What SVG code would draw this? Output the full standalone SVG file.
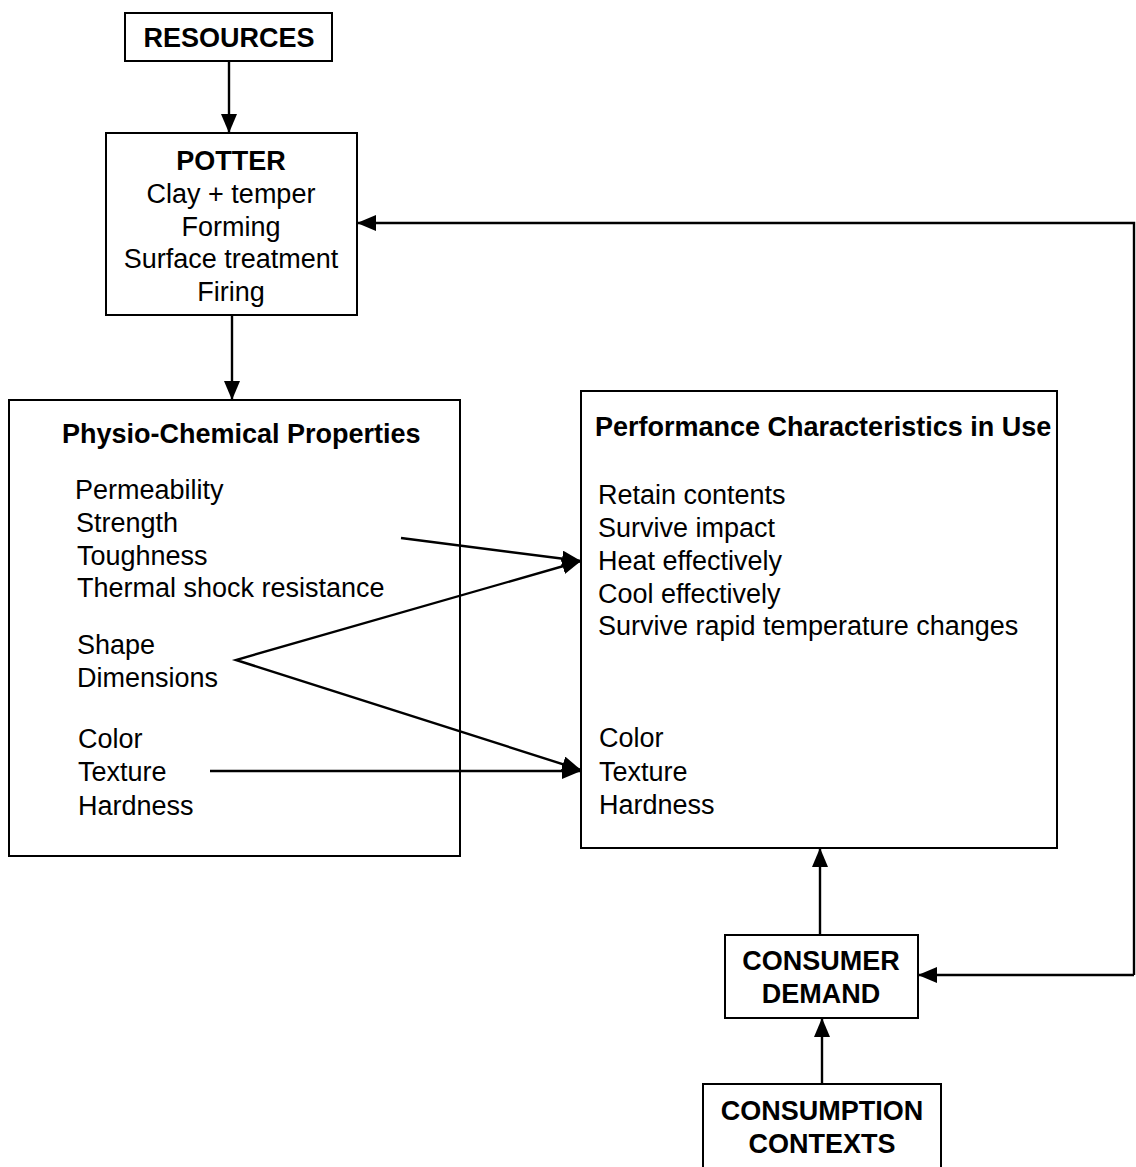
<svg xmlns="http://www.w3.org/2000/svg" width="1136" height="1167" viewBox="0 0 1136 1167">
  <defs>
    <marker id="arrow" viewBox="0 0 19 16" refX="19" refY="8" markerWidth="19" markerHeight="16" markerUnits="userSpaceOnUse" orient="auto">
      <path d="M0,0 L19,8 L0,16 Z" fill="#000"/>
    </marker>
    <marker id="arrowrev" viewBox="0 0 19 16" refX="0" refY="8" markerWidth="19" markerHeight="16" markerUnits="userSpaceOnUse" orient="auto">
      <path d="M19,0 L0,8 L19,16 Z" fill="#000"/>
    </marker>
    <style>
      .box { fill: #fff; stroke: #000; stroke-width: 2; }
      .t { font-family: "Liberation Sans", Arial, sans-serif; font-size: 27px; fill: #000; }
      .b { font-weight: bold; }
      .c { text-anchor: middle; }
      .link { fill: none; stroke: #000; stroke-width: 2.4; marker-end: url(#arrow); }
    </style>
  </defs>

  <rect width="1136" height="1167" fill="#fff"/>

  <g id="resources">
    <rect class="box" x="125" y="13" width="207" height="48"/>
    <text class="t b c" x="229" y="47">RESOURCES</text>
  </g>

  <g id="potter">
    <rect class="box" x="106" y="133" width="251" height="182"/>
    <text class="t b c" x="231" y="170">POTTER</text>
    <text class="t c" x="231" y="203">Clay + temper</text>
    <text class="t c" x="231" y="236">Forming</text>
    <text class="t c" x="231" y="268">Surface treatment</text>
    <text class="t c" x="231" y="301">Firing</text>
  </g>

  <g id="physio-chemical">
    <rect class="box" x="9" y="400" width="451" height="456"/>
    <text class="t b" x="62" y="443">Physio-Chemical Properties</text>
    <text class="t" x="75" y="499">Permeability</text>
    <text class="t" x="76" y="532">Strength</text>
    <text class="t" x="77" y="565">Toughness</text>
    <text class="t" x="77" y="597">Thermal shock resistance</text>
    <text class="t" x="77" y="654">Shape</text>
    <text class="t" x="77" y="687">Dimensions</text>
    <text class="t" x="78" y="748">Color</text>
    <text class="t" x="78" y="781">Texture</text>
    <text class="t" x="78" y="815">Hardness</text>
  </g>

  <g id="performance">
    <rect class="box" x="581" y="391" width="476" height="457"/>
    <text class="t b" x="595" y="436">Performance Characteristics in Use</text>
    <text class="t" x="598" y="504">Retain contents</text>
    <text class="t" x="598" y="537">Survive impact</text>
    <text class="t" x="598" y="570">Heat effectively</text>
    <text class="t" x="598" y="603">Cool effectively</text>
    <text class="t" x="598" y="635">Survive rapid temperature changes</text>
    <text class="t" x="599" y="747">Color</text>
    <text class="t" x="599" y="781">Texture</text>
    <text class="t" x="599" y="814">Hardness</text>
  </g>

  <g id="consumer-demand">
    <rect class="box" x="725" y="935" width="193" height="83"/>
    <text class="t b c" x="821" y="970">CONSUMER</text>
    <text class="t b c" x="821" y="1003">DEMAND</text>
  </g>

  <g id="consumption-contexts">
    <rect class="box" x="703" y="1084" width="238" height="90"/>
    <text class="t b c" x="822" y="1120">CONSUMPTION</text>
    <text class="t b c" x="822" y="1153">CONTEXTS</text>
  </g>

  <g id="connectors">
    <line class="link" x1="229" y1="61" x2="229" y2="133"/>
    <line class="link" x1="232" y1="315" x2="232" y2="400"/>
    <line class="link" x1="401" y1="538" x2="581" y2="561"/>
    <polyline class="link" points="581,561 236,660 581,770" style="marker-start:url(#arrowrev)"/>
    <line class="link" x1="210" y1="771" x2="581" y2="771"/>
    <line class="link" x1="820" y1="935" x2="820" y2="848"/>
    <line class="link" x1="822" y1="1084" x2="822" y2="1018"/>
    <path class="link" d="M1134,975 H918"/>
    <path class="link" d="M1134,975 V223 H357"/>
  </g>
</svg>
